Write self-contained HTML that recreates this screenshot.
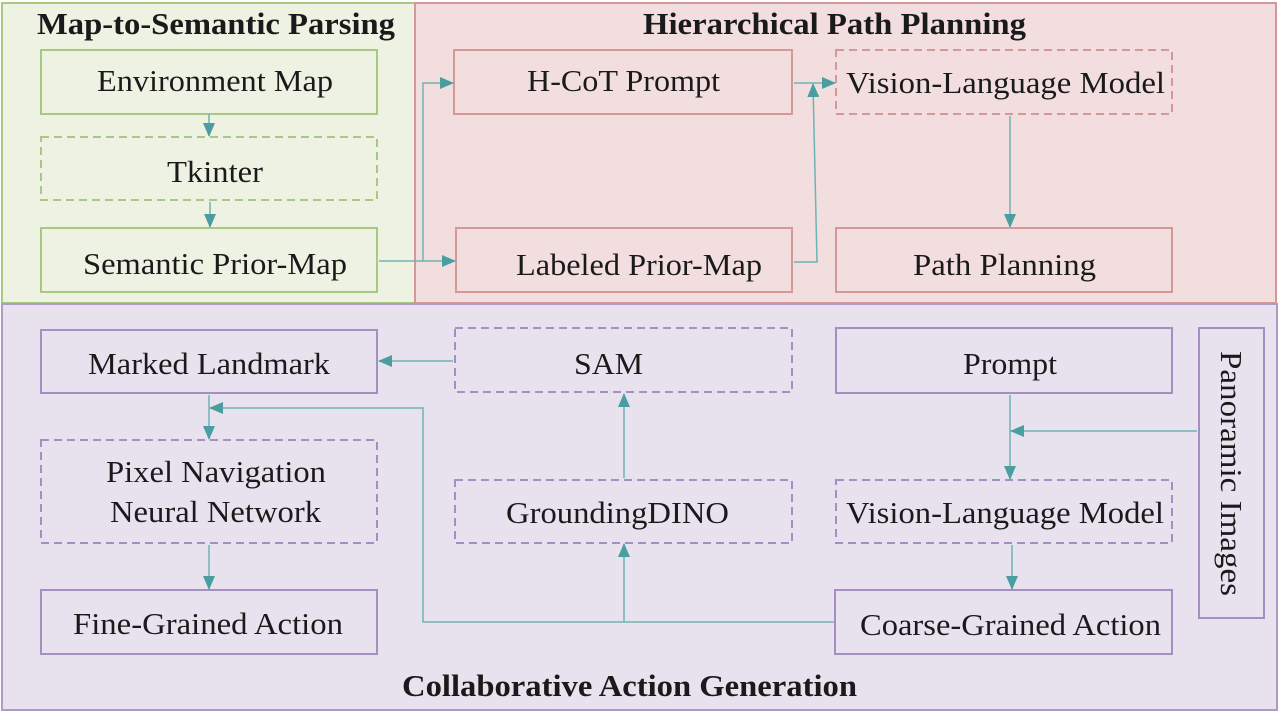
<!DOCTYPE html>
<html><head><meta charset="utf-8"><style>html,body{margin:0;padding:0;background:#fff}svg{display:block}</style></head><body>
<svg width="1280" height="712" viewBox="0 0 1280 712" xmlns="http://www.w3.org/2000/svg" font-family="Liberation Serif, serif" fill="#1a1a1a">
<defs><marker id="a" markerWidth="14" markerHeight="12" refX="13" refY="6" orient="auto" markerUnits="userSpaceOnUse"><path d="M0,0 L14,6 L0,12 Z" fill="#4a9ea0"/></marker></defs>
<rect x="2" y="3" width="413" height="300" fill="#eef2e2" stroke="#a9c882" stroke-width="2"/>
<rect x="415" y="3" width="861" height="300" fill="#f2dede" stroke="#d49898" stroke-width="2"/>
<rect x="2" y="304" width="1275" height="406" fill="#e8e2ef" stroke="#b09ac6" stroke-width="2"/>
<g fill="none" stroke-width="2">
<g stroke="#a9c882"><rect x="41" y="50" width="336" height="64"/><rect x="41" y="137" width="336" height="63" stroke-dasharray="8,5"/><rect x="41" y="228" width="336" height="64"/></g>
<g stroke="#d49898"><rect x="454" y="50" width="338" height="64"/><rect x="456" y="228" width="336" height="64"/><rect x="836" y="50" width="336" height="64" stroke-dasharray="8,5"/><rect x="836" y="228" width="336" height="64"/></g>
<g stroke="#a58fc0"><rect x="41" y="330" width="336" height="63"/><rect x="455" y="328" width="337" height="64" stroke-dasharray="8,5"/><rect x="836" y="328" width="336" height="65"/><rect x="1199" y="328" width="65" height="290"/><rect x="41" y="440" width="336" height="103" stroke-dasharray="8,5"/><rect x="455" y="480" width="337" height="63" stroke-dasharray="8,5"/><rect x="836" y="480" width="336" height="63" stroke-dasharray="8,5"/><rect x="41" y="590" width="336" height="64"/><rect x="835" y="590" width="337" height="64"/></g>
</g>
<g fill="none" stroke="#6fb3b4" stroke-width="1.5">
<line x1="209" y1="114" x2="209" y2="136" marker-end="url(#a)"/>
<line x1="210" y1="202" x2="210" y2="227" marker-end="url(#a)"/>
<line x1="379" y1="261" x2="455" y2="261" marker-end="url(#a)"/>
<polyline points="423,261 423,83 453,83" marker-end="url(#a)"/>
<line x1="794" y1="83" x2="835" y2="83" marker-end="url(#a)"/>
<polyline points="794,262 817,262 813,84" marker-end="url(#a)"/>
<line x1="1010" y1="116" x2="1010" y2="227" marker-end="url(#a)"/>
<line x1="453" y1="361" x2="379" y2="361" marker-end="url(#a)"/>
<line x1="209" y1="395" x2="209" y2="439" marker-end="url(#a)"/>
<line x1="209" y1="545" x2="209" y2="589" marker-end="url(#a)"/>
<line x1="624" y1="478" x2="624" y2="394" marker-end="url(#a)"/>
<polyline points="834,622 423,622 423,408 210,408" marker-end="url(#a)"/>
<line x1="624" y1="622" x2="624" y2="544" marker-end="url(#a)"/>
<line x1="1010" y1="395" x2="1010" y2="479" marker-end="url(#a)"/>
<line x1="1197" y1="431" x2="1011" y2="431" marker-end="url(#a)"/>
<line x1="1012" y1="545" x2="1012" y2="589" marker-end="url(#a)"/>
</g>
<g font-size="31">
<text x="37" y="34" font-weight="bold" textLength="358" lengthAdjust="spacingAndGlyphs">Map-to-Semantic Parsing</text>
<text x="643" y="34" font-weight="bold" textLength="383" lengthAdjust="spacingAndGlyphs">Hierarchical Path Planning</text>
<text x="402" y="696" font-weight="bold" textLength="455" lengthAdjust="spacingAndGlyphs">Collaborative Action Generation</text>
<text x="97" y="91" textLength="236" lengthAdjust="spacingAndGlyphs">Environment Map</text>
<text x="167" y="182" textLength="96" lengthAdjust="spacingAndGlyphs">Tkinter</text>
<text x="83" y="274" textLength="264" lengthAdjust="spacingAndGlyphs">Semantic Prior-Map</text>
<text x="527" y="91" textLength="193" lengthAdjust="spacingAndGlyphs">H-CoT Prompt</text>
<text x="846" y="93" textLength="319" lengthAdjust="spacingAndGlyphs">Vision-Language Model</text>
<text x="516" y="275" textLength="246" lengthAdjust="spacingAndGlyphs">Labeled Prior-Map</text>
<text x="913" y="275" textLength="183" lengthAdjust="spacingAndGlyphs">Path Planning</text>
<text x="88" y="374" textLength="242" lengthAdjust="spacingAndGlyphs">Marked Landmark</text>
<text x="574" y="374" textLength="69" lengthAdjust="spacingAndGlyphs">SAM</text>
<text x="963" y="374" textLength="94" lengthAdjust="spacingAndGlyphs">Prompt</text>
<text x="106" y="482" textLength="220" lengthAdjust="spacingAndGlyphs">Pixel Navigation</text>
<text x="110" y="522" textLength="211" lengthAdjust="spacingAndGlyphs">Neural Network</text>
<text x="506" y="523" textLength="223" lengthAdjust="spacingAndGlyphs">GroundingDINO</text>
<text x="846" y="523" textLength="318" lengthAdjust="spacingAndGlyphs">Vision-Language Model</text>
<text x="73" y="634" textLength="270" lengthAdjust="spacingAndGlyphs">Fine-Grained Action</text>
<text x="860" y="635" textLength="301" lengthAdjust="spacingAndGlyphs">Coarse-Grained Action</text>
<text transform="translate(1221,351) rotate(90)" textLength="245" lengthAdjust="spacingAndGlyphs">Panoramic Images</text>
</g>
</svg>
</body></html>
